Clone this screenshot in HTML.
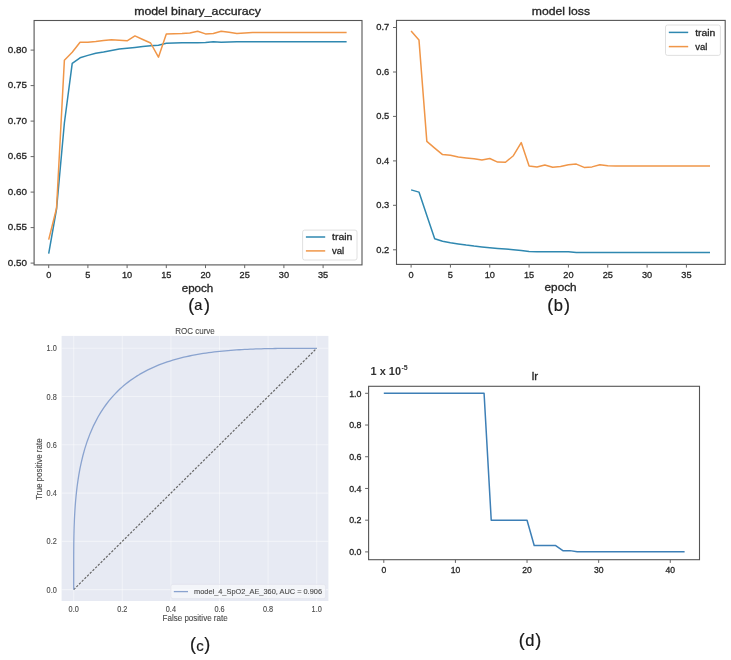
<!DOCTYPE html>
<html><head><meta charset="utf-8"><style>
html,body{margin:0;padding:0;background:#fff;}
svg{display:block;filter:blur(0.45px);}
text{font-family:"Liberation Sans",sans-serif;}
</style></head><body>
<svg width="731" height="660" viewBox="0 0 731 660">
<rect width="731" height="660" fill="#fff"/>
<rect x="34.1" y="20.5" width="327.90" height="244.40" fill="none" stroke="#555" stroke-width="1.1"/>
<line x1="30.6" y1="263.1" x2="34.1" y2="263.1" stroke="#666" stroke-width="1"/>
<text x="27.00" y="265.80" font-size="9.8" text-anchor="end" fill="#262626" stroke="#262626" stroke-width="0.3" textLength="19.2" lengthAdjust="spacingAndGlyphs" >0.50</text>
<line x1="30.6" y1="227.6" x2="34.1" y2="227.6" stroke="#666" stroke-width="1"/>
<text x="27.00" y="230.30" font-size="9.8" text-anchor="end" fill="#262626" stroke="#262626" stroke-width="0.3" textLength="19.2" lengthAdjust="spacingAndGlyphs" >0.55</text>
<line x1="30.6" y1="192.1" x2="34.1" y2="192.1" stroke="#666" stroke-width="1"/>
<text x="27.00" y="194.80" font-size="9.8" text-anchor="end" fill="#262626" stroke="#262626" stroke-width="0.3" textLength="19.2" lengthAdjust="spacingAndGlyphs" >0.60</text>
<line x1="30.6" y1="156.6" x2="34.1" y2="156.6" stroke="#666" stroke-width="1"/>
<text x="27.00" y="159.30" font-size="9.8" text-anchor="end" fill="#262626" stroke="#262626" stroke-width="0.3" textLength="19.2" lengthAdjust="spacingAndGlyphs" >0.65</text>
<line x1="30.6" y1="121.1" x2="34.1" y2="121.1" stroke="#666" stroke-width="1"/>
<text x="27.00" y="123.80" font-size="9.8" text-anchor="end" fill="#262626" stroke="#262626" stroke-width="0.3" textLength="19.2" lengthAdjust="spacingAndGlyphs" >0.70</text>
<line x1="30.6" y1="85.6" x2="34.1" y2="85.6" stroke="#666" stroke-width="1"/>
<text x="27.00" y="88.30" font-size="9.8" text-anchor="end" fill="#262626" stroke="#262626" stroke-width="0.3" textLength="19.2" lengthAdjust="spacingAndGlyphs" >0.75</text>
<line x1="30.6" y1="50.1" x2="34.1" y2="50.1" stroke="#666" stroke-width="1"/>
<text x="27.00" y="52.80" font-size="9.8" text-anchor="end" fill="#262626" stroke="#262626" stroke-width="0.3" textLength="19.2" lengthAdjust="spacingAndGlyphs" >0.80</text>
<line x1="48.70" y1="264.9" x2="48.70" y2="268.10" stroke="#666" stroke-width="1"/>
<text x="48.70" y="278.40" font-size="9.2" text-anchor="middle" fill="#262626" stroke="#262626" stroke-width="0.3" >0</text>
<line x1="87.90" y1="264.9" x2="87.90" y2="268.10" stroke="#666" stroke-width="1"/>
<text x="87.90" y="278.40" font-size="9.2" text-anchor="middle" fill="#262626" stroke="#262626" stroke-width="0.3" >5</text>
<line x1="127.10" y1="264.9" x2="127.10" y2="268.10" stroke="#666" stroke-width="1"/>
<text x="127.10" y="278.40" font-size="9.2" text-anchor="middle" fill="#262626" stroke="#262626" stroke-width="0.3" >10</text>
<line x1="166.30" y1="264.9" x2="166.30" y2="268.10" stroke="#666" stroke-width="1"/>
<text x="166.30" y="278.40" font-size="9.2" text-anchor="middle" fill="#262626" stroke="#262626" stroke-width="0.3" >15</text>
<line x1="205.50" y1="264.9" x2="205.50" y2="268.10" stroke="#666" stroke-width="1"/>
<text x="205.50" y="278.40" font-size="9.2" text-anchor="middle" fill="#262626" stroke="#262626" stroke-width="0.3" >20</text>
<line x1="244.70" y1="264.9" x2="244.70" y2="268.10" stroke="#666" stroke-width="1"/>
<text x="244.70" y="278.40" font-size="9.2" text-anchor="middle" fill="#262626" stroke="#262626" stroke-width="0.3" >25</text>
<line x1="283.90" y1="264.9" x2="283.90" y2="268.10" stroke="#666" stroke-width="1"/>
<text x="283.90" y="278.40" font-size="9.2" text-anchor="middle" fill="#262626" stroke="#262626" stroke-width="0.3" >30</text>
<line x1="323.10" y1="264.9" x2="323.10" y2="268.10" stroke="#666" stroke-width="1"/>
<text x="323.10" y="278.40" font-size="9.2" text-anchor="middle" fill="#262626" stroke="#262626" stroke-width="0.3" >35</text>
<text x="197.50" y="14.80" font-size="10.3" text-anchor="middle" fill="#262626" stroke="#262626" stroke-width="0.3" textLength="126.7" lengthAdjust="spacingAndGlyphs" >model binary_accuracy</text>
<text x="197.50" y="291.80" font-size="10.3" text-anchor="middle" fill="#262626" stroke="#262626" stroke-width="0.3" textLength="31.6" lengthAdjust="spacingAndGlyphs" >epoch</text>
<polyline points="48.70,253.60 56.54,209.00 64.38,123.00 72.22,63.30 80.06,57.80 87.90,55.40 95.74,53.30 103.58,52.00 111.42,50.40 119.26,49.00 127.10,48.20 134.94,47.40 142.78,46.50 150.62,45.80 158.46,45.20 166.30,43.30 174.14,43.10 181.98,42.80 189.82,42.70 197.66,42.70 205.50,42.40 213.34,41.70 221.18,42.30 229.02,41.90 236.86,41.80 244.70,41.80 252.54,41.80 260.38,41.80 268.22,41.80 276.06,41.80 283.90,41.80 291.74,41.80 299.58,41.80 307.42,41.80 315.26,41.80 323.10,41.80 330.94,41.80 338.78,41.80 346.62,41.80" fill="none" stroke="#2f88b0" stroke-width="1.5" stroke-linejoin="round"/>
<polyline points="48.70,239.60 56.54,208.20 64.38,60.30 72.22,52.30 80.06,42.20 87.90,42.20 95.74,41.50 103.58,40.60 111.42,39.70 119.26,40.20 127.10,40.80 134.94,35.90 142.78,39.50 150.62,43.00 158.46,57.20 166.30,34.00 174.14,33.80 181.98,33.50 189.82,32.90 197.66,31.30 205.50,33.90 213.34,33.50 221.18,31.20 229.02,32.30 236.86,33.60 244.70,32.90 252.54,32.60 260.38,32.60 268.22,32.60 276.06,32.60 283.90,32.60 291.74,32.60 299.58,32.60 307.42,32.60 315.26,32.60 323.10,32.60 330.94,32.60 338.78,32.60 346.62,32.60" fill="none" stroke="#f09648" stroke-width="1.5" stroke-linejoin="round"/>
<rect x="302.6" y="230.1" width="54.4" height="29.9" rx="2" fill="#fff" fill-opacity="0.8" stroke="#d8d8d8" stroke-width="0.8"/>
<line x1="305.9" y1="237" x2="325.2" y2="237" stroke="#2f88b0" stroke-width="1.5"/>
<line x1="305.9" y1="250.9" x2="325.2" y2="250.9" stroke="#f09648" stroke-width="1.5"/>
<text x="332.10" y="240.40" font-size="9.2" text-anchor="start" fill="#262626" stroke="#262626" stroke-width="0.3" textLength="20.3" lengthAdjust="spacingAndGlyphs" >train</text>
<text x="332.10" y="254.00" font-size="9.2" text-anchor="start" fill="#262626" stroke="#262626" stroke-width="0.3" textLength="12.1" lengthAdjust="spacingAndGlyphs" >val</text>
<rect x="396.5" y="20.4" width="328.70" height="244.00" fill="none" stroke="#555" stroke-width="1.1"/>
<line x1="393.0" y1="27.5" x2="396.5" y2="27.5" stroke="#666" stroke-width="1"/>
<text x="389.20" y="30.20" font-size="9.8" text-anchor="end" fill="#262626" stroke="#262626" stroke-width="0.3" textLength="13.0" lengthAdjust="spacingAndGlyphs" >0.7</text>
<line x1="393.0" y1="72.0" x2="396.5" y2="72.0" stroke="#666" stroke-width="1"/>
<text x="389.20" y="74.70" font-size="9.8" text-anchor="end" fill="#262626" stroke="#262626" stroke-width="0.3" textLength="13.0" lengthAdjust="spacingAndGlyphs" >0.6</text>
<line x1="393.0" y1="116.4" x2="396.5" y2="116.4" stroke="#666" stroke-width="1"/>
<text x="389.20" y="119.10" font-size="9.8" text-anchor="end" fill="#262626" stroke="#262626" stroke-width="0.3" textLength="13.0" lengthAdjust="spacingAndGlyphs" >0.5</text>
<line x1="393.0" y1="160.9" x2="396.5" y2="160.9" stroke="#666" stroke-width="1"/>
<text x="389.20" y="163.60" font-size="9.8" text-anchor="end" fill="#262626" stroke="#262626" stroke-width="0.3" textLength="13.0" lengthAdjust="spacingAndGlyphs" >0.4</text>
<line x1="393.0" y1="205.3" x2="396.5" y2="205.3" stroke="#666" stroke-width="1"/>
<text x="389.20" y="208.00" font-size="9.8" text-anchor="end" fill="#262626" stroke="#262626" stroke-width="0.3" textLength="13.0" lengthAdjust="spacingAndGlyphs" >0.3</text>
<line x1="393.0" y1="249.8" x2="396.5" y2="249.8" stroke="#666" stroke-width="1"/>
<text x="389.20" y="252.50" font-size="9.8" text-anchor="end" fill="#262626" stroke="#262626" stroke-width="0.3" textLength="13.0" lengthAdjust="spacingAndGlyphs" >0.2</text>
<line x1="411.10" y1="264.4" x2="411.10" y2="267.60" stroke="#666" stroke-width="1"/>
<text x="411.10" y="278.00" font-size="9.2" text-anchor="middle" fill="#262626" stroke="#262626" stroke-width="0.3" >0</text>
<line x1="450.43" y1="264.4" x2="450.43" y2="267.60" stroke="#666" stroke-width="1"/>
<text x="450.43" y="278.00" font-size="9.2" text-anchor="middle" fill="#262626" stroke="#262626" stroke-width="0.3" >5</text>
<line x1="489.76" y1="264.4" x2="489.76" y2="267.60" stroke="#666" stroke-width="1"/>
<text x="489.76" y="278.00" font-size="9.2" text-anchor="middle" fill="#262626" stroke="#262626" stroke-width="0.3" >10</text>
<line x1="529.09" y1="264.4" x2="529.09" y2="267.60" stroke="#666" stroke-width="1"/>
<text x="529.09" y="278.00" font-size="9.2" text-anchor="middle" fill="#262626" stroke="#262626" stroke-width="0.3" >15</text>
<line x1="568.42" y1="264.4" x2="568.42" y2="267.60" stroke="#666" stroke-width="1"/>
<text x="568.42" y="278.00" font-size="9.2" text-anchor="middle" fill="#262626" stroke="#262626" stroke-width="0.3" >20</text>
<line x1="607.75" y1="264.4" x2="607.75" y2="267.60" stroke="#666" stroke-width="1"/>
<text x="607.75" y="278.00" font-size="9.2" text-anchor="middle" fill="#262626" stroke="#262626" stroke-width="0.3" >25</text>
<line x1="647.08" y1="264.4" x2="647.08" y2="267.60" stroke="#666" stroke-width="1"/>
<text x="647.08" y="278.00" font-size="9.2" text-anchor="middle" fill="#262626" stroke="#262626" stroke-width="0.3" >30</text>
<line x1="686.41" y1="264.4" x2="686.41" y2="267.60" stroke="#666" stroke-width="1"/>
<text x="686.41" y="278.00" font-size="9.2" text-anchor="middle" fill="#262626" stroke="#262626" stroke-width="0.3" >35</text>
<text x="560.90" y="14.80" font-size="10.3" text-anchor="middle" fill="#262626" stroke="#262626" stroke-width="0.3" textLength="58.2" lengthAdjust="spacingAndGlyphs" >model loss</text>
<text x="560.60" y="290.70" font-size="10.3" text-anchor="middle" fill="#262626" stroke="#262626" stroke-width="0.3" textLength="32.1" lengthAdjust="spacingAndGlyphs" >epoch</text>
<polyline points="411.10,189.90 418.97,192.10 426.83,215.40 434.70,238.80 442.56,241.20 450.43,242.70 458.30,243.90 466.16,245.10 474.03,246.10 481.89,246.90 489.76,247.70 497.63,248.40 505.49,249.00 513.36,249.70 521.22,250.40 529.09,251.60 536.96,251.70 544.82,251.70 552.69,251.70 560.55,251.80 568.42,251.80 576.29,252.40 584.15,252.60 592.02,252.60 599.88,252.60 607.75,252.60 615.62,252.60 623.48,252.60 631.35,252.60 639.21,252.60 647.08,252.60 654.95,252.60 662.81,252.60 670.68,252.60 678.54,252.60 686.41,252.60 694.28,252.60 702.14,252.60 710.01,252.60" fill="none" stroke="#2f88b0" stroke-width="1.5" stroke-linejoin="round"/>
<polyline points="411.10,30.90 418.97,39.90 426.83,141.40 434.70,148.10 442.56,154.60 450.43,155.20 458.30,157.00 466.16,157.90 474.03,158.80 481.89,160.10 489.76,158.50 497.63,162.10 505.49,162.30 513.36,155.70 521.22,142.60 529.09,165.90 536.96,167.00 544.82,165.00 552.69,167.20 560.55,166.60 568.42,164.80 576.29,164.10 584.15,167.40 592.02,166.90 599.88,164.70 607.75,165.80 615.62,166.00 623.48,166.00 631.35,166.00 639.21,166.00 647.08,166.00 654.95,166.00 662.81,166.00 670.68,166.00 678.54,166.00 686.41,166.00 694.28,166.00 702.14,166.00 710.01,166.00" fill="none" stroke="#f09648" stroke-width="1.5" stroke-linejoin="round"/>
<rect x="665.5" y="25" width="54.9" height="30.4" rx="2" fill="#fff" fill-opacity="0.8" stroke="#d8d8d8" stroke-width="0.8"/>
<line x1="668.8" y1="32.4" x2="688.2" y2="32.4" stroke="#2f88b0" stroke-width="1.5"/>
<line x1="668.8" y1="46.6" x2="688.2" y2="46.6" stroke="#f09648" stroke-width="1.5"/>
<text x="695.20" y="35.80" font-size="9.2" text-anchor="start" fill="#262626" stroke="#262626" stroke-width="0.3" textLength="20.2" lengthAdjust="spacingAndGlyphs" >train</text>
<text x="695.20" y="49.60" font-size="9.2" text-anchor="start" fill="#262626" stroke="#262626" stroke-width="0.3" textLength="12.1" lengthAdjust="spacingAndGlyphs" >val</text>
<rect x="61.6" y="335.9" width="266.80" height="265.10" fill="#e7eaf3"/>
<line x1="73.70" y1="335.9" x2="73.70" y2="601.0" stroke="#fff" stroke-opacity="0.42" stroke-width="1.1"/>
<line x1="122.30" y1="335.9" x2="122.30" y2="601.0" stroke="#fff" stroke-opacity="0.42" stroke-width="1.1"/>
<line x1="170.90" y1="335.9" x2="170.90" y2="601.0" stroke="#fff" stroke-opacity="0.42" stroke-width="1.1"/>
<line x1="219.50" y1="335.9" x2="219.50" y2="601.0" stroke="#fff" stroke-opacity="0.42" stroke-width="1.1"/>
<line x1="268.10" y1="335.9" x2="268.10" y2="601.0" stroke="#fff" stroke-opacity="0.42" stroke-width="1.1"/>
<line x1="316.70" y1="335.9" x2="316.70" y2="601.0" stroke="#fff" stroke-opacity="0.42" stroke-width="1.1"/>
<line x1="61.6" y1="589.60" x2="328.4" y2="589.60" stroke="#fff" stroke-opacity="0.42" stroke-width="1.1"/>
<line x1="61.6" y1="541.34" x2="328.4" y2="541.34" stroke="#fff" stroke-opacity="0.42" stroke-width="1.1"/>
<line x1="61.6" y1="493.08" x2="328.4" y2="493.08" stroke="#fff" stroke-opacity="0.42" stroke-width="1.1"/>
<line x1="61.6" y1="444.82" x2="328.4" y2="444.82" stroke="#fff" stroke-opacity="0.42" stroke-width="1.1"/>
<line x1="61.6" y1="396.56" x2="328.4" y2="396.56" stroke="#fff" stroke-opacity="0.42" stroke-width="1.1"/>
<line x1="61.6" y1="348.30" x2="328.4" y2="348.30" stroke="#fff" stroke-opacity="0.42" stroke-width="1.1"/>
<text x="56.80" y="592.60" font-size="8.2" text-anchor="end" fill="#4a4a4a" stroke="#4a4a4a" stroke-width="0.12" textLength="10.2" lengthAdjust="spacingAndGlyphs" >0.0</text>
<text x="56.80" y="544.34" font-size="8.2" text-anchor="end" fill="#4a4a4a" stroke="#4a4a4a" stroke-width="0.12" textLength="10.2" lengthAdjust="spacingAndGlyphs" >0.2</text>
<text x="56.80" y="496.08" font-size="8.2" text-anchor="end" fill="#4a4a4a" stroke="#4a4a4a" stroke-width="0.12" textLength="10.2" lengthAdjust="spacingAndGlyphs" >0.4</text>
<text x="56.80" y="447.82" font-size="8.2" text-anchor="end" fill="#4a4a4a" stroke="#4a4a4a" stroke-width="0.12" textLength="10.2" lengthAdjust="spacingAndGlyphs" >0.6</text>
<text x="56.80" y="399.56" font-size="8.2" text-anchor="end" fill="#4a4a4a" stroke="#4a4a4a" stroke-width="0.12" textLength="10.2" lengthAdjust="spacingAndGlyphs" >0.8</text>
<text x="56.80" y="351.30" font-size="8.2" text-anchor="end" fill="#4a4a4a" stroke="#4a4a4a" stroke-width="0.12" textLength="10.2" lengthAdjust="spacingAndGlyphs" >1.0</text>
<text x="73.70" y="611.90" font-size="8.2" text-anchor="middle" fill="#4a4a4a" stroke="#4a4a4a" stroke-width="0.12" textLength="10.2" lengthAdjust="spacingAndGlyphs" >0.0</text>
<text x="122.30" y="611.90" font-size="8.2" text-anchor="middle" fill="#4a4a4a" stroke="#4a4a4a" stroke-width="0.12" textLength="10.2" lengthAdjust="spacingAndGlyphs" >0.2</text>
<text x="170.90" y="611.90" font-size="8.2" text-anchor="middle" fill="#4a4a4a" stroke="#4a4a4a" stroke-width="0.12" textLength="10.2" lengthAdjust="spacingAndGlyphs" >0.4</text>
<text x="219.50" y="611.90" font-size="8.2" text-anchor="middle" fill="#4a4a4a" stroke="#4a4a4a" stroke-width="0.12" textLength="10.2" lengthAdjust="spacingAndGlyphs" >0.6</text>
<text x="268.10" y="611.90" font-size="8.2" text-anchor="middle" fill="#4a4a4a" stroke="#4a4a4a" stroke-width="0.12" textLength="10.2" lengthAdjust="spacingAndGlyphs" >0.8</text>
<text x="316.70" y="611.90" font-size="8.2" text-anchor="middle" fill="#4a4a4a" stroke="#4a4a4a" stroke-width="0.12" textLength="10.2" lengthAdjust="spacingAndGlyphs" >1.0</text>
<text x="195.00" y="333.60" font-size="9.2" text-anchor="middle" fill="#4a4a4a" stroke="#4a4a4a" stroke-width="0.12" textLength="39.6" lengthAdjust="spacingAndGlyphs" >ROC curve</text>
<text x="195.10" y="620.80" font-size="8.8" text-anchor="middle" fill="#4a4a4a" stroke="#4a4a4a" stroke-width="0.12" textLength="65.2" lengthAdjust="spacingAndGlyphs" >False positive rate</text>
<text transform="translate(42.4,469.1) rotate(-90)" x="0" y="0" font-size="8.8" text-anchor="middle" fill="#4a4a4a" stroke="#4a4a4a" stroke-width="0.12" textLength="61.4" lengthAdjust="spacingAndGlyphs">True positive rate</text>
<line x1="73.7" y1="589.6" x2="316.7" y2="348.3" stroke="#666" stroke-width="1.2" stroke-dasharray="2.3,1.5"/>
<polyline points="73.70,589.60 73.70,567.61 73.70,567.33 73.70,567.03 73.70,566.71 73.70,566.37 73.70,566.01 73.70,565.63 73.70,565.22 73.70,564.79 73.70,564.33 73.70,563.84 73.70,563.33 73.70,562.78 73.70,562.21 73.70,561.59 73.70,560.95 73.71,560.26 73.71,559.53 73.71,558.76 73.71,557.94 73.71,557.08 73.71,556.16 73.72,555.19 73.72,554.16 73.73,553.07 73.73,551.91 73.74,550.68 73.75,549.37 73.76,547.99 73.77,546.52 73.78,544.95 73.80,543.29 73.83,541.53 73.85,539.65 73.88,537.65 73.92,535.53 73.97,533.26 74.03,530.86 74.10,528.29 74.19,525.56 74.30,522.65 74.42,519.55 74.58,516.24 74.77,512.72 75.00,508.97 75.28,504.98 75.62,500.73 76.04,496.20 76.54,491.39 77.15,486.27 77.90,480.84 78.80,475.08 79.90,468.99 81.24,462.55 82.86,455.76 84.83,448.63 87.23,441.17 90.15,433.39 93.69,425.33 98.00,417.04 100.77,412.38 103.54,408.13 106.31,404.25 109.07,400.68 111.84,397.38 114.61,394.33 117.38,391.48 120.15,388.84 122.92,386.36 125.68,384.05 128.45,381.88 131.22,379.84 133.99,377.93 136.76,376.13 139.53,374.43 142.29,372.84 145.06,371.33 147.83,369.91 150.60,368.57 153.37,367.30 156.14,366.10 158.90,364.97 161.67,363.90 164.44,362.89 167.21,361.94 169.98,361.04 172.75,360.19 175.51,359.38 178.28,358.62 181.05,357.91 183.82,357.23 186.59,356.59 189.36,355.99 192.12,355.42 194.89,354.89 197.66,354.38 200.43,353.91 203.20,353.46 205.97,353.05 208.73,352.66 211.50,352.29 214.27,351.95 217.04,351.62 219.81,351.32 222.58,351.05 225.34,350.79 228.11,350.54 230.88,350.32 233.65,350.11 236.42,349.92 239.19,349.74 241.95,349.58 244.72,349.43 247.49,349.30 250.26,349.17 253.03,349.06 255.80,348.96 258.56,348.86 261.33,348.78 264.10,348.71 266.87,348.64 269.64,348.58 272.41,348.53 275.17,348.49 277.94,348.45 280.71,348.42 283.48,348.39 286.25,348.37 289.02,348.35 291.78,348.34 294.55,348.32 297.32,348.32 300.09,348.31 302.86,348.31 305.63,348.30 308.39,348.30 311.16,348.30 313.93,348.30 316.70,348.30" fill="none" stroke="#8aa3cf" stroke-width="1.3" stroke-linejoin="round"/>
<rect x="170.9" y="584.4" width="154.7" height="14.2" rx="2" fill="#fff" fill-opacity="0.5" stroke="#e2e3ec" stroke-width="0.8"/>
<line x1="173.8" y1="591.6" x2="188" y2="591.6" stroke="#8aa3cf" stroke-width="1.3"/>
<text x="194.00" y="594.20" font-size="8" text-anchor="start" fill="#4a4a4a" stroke="#4a4a4a" stroke-width="0.12" textLength="128.0" lengthAdjust="spacingAndGlyphs" >model_4_SpO2_AE_360, AUC = 0.906</text>
<rect x="368.6" y="386.3" width="330.90" height="173.40" fill="none" stroke="#555" stroke-width="1.1"/>
<line x1="365.1" y1="551.90" x2="368.6" y2="551.90" stroke="#666" stroke-width="1"/>
<text x="361.50" y="555.10" font-size="8.6" text-anchor="end" fill="#262626" stroke="#262626" stroke-width="0.3" textLength="12.3" lengthAdjust="spacingAndGlyphs" >0.0</text>
<line x1="365.1" y1="520.18" x2="368.6" y2="520.18" stroke="#666" stroke-width="1"/>
<text x="361.50" y="523.38" font-size="8.6" text-anchor="end" fill="#262626" stroke="#262626" stroke-width="0.3" textLength="12.3" lengthAdjust="spacingAndGlyphs" >0.2</text>
<line x1="365.1" y1="488.46" x2="368.6" y2="488.46" stroke="#666" stroke-width="1"/>
<text x="361.50" y="491.66" font-size="8.6" text-anchor="end" fill="#262626" stroke="#262626" stroke-width="0.3" textLength="12.3" lengthAdjust="spacingAndGlyphs" >0.4</text>
<line x1="365.1" y1="456.74" x2="368.6" y2="456.74" stroke="#666" stroke-width="1"/>
<text x="361.50" y="459.94" font-size="8.6" text-anchor="end" fill="#262626" stroke="#262626" stroke-width="0.3" textLength="12.3" lengthAdjust="spacingAndGlyphs" >0.6</text>
<line x1="365.1" y1="425.02" x2="368.6" y2="425.02" stroke="#666" stroke-width="1"/>
<text x="361.50" y="428.22" font-size="8.6" text-anchor="end" fill="#262626" stroke="#262626" stroke-width="0.3" textLength="12.3" lengthAdjust="spacingAndGlyphs" >0.8</text>
<line x1="365.1" y1="393.30" x2="368.6" y2="393.30" stroke="#666" stroke-width="1"/>
<text x="361.50" y="396.50" font-size="8.6" text-anchor="end" fill="#262626" stroke="#262626" stroke-width="0.3" textLength="12.3" lengthAdjust="spacingAndGlyphs" >1.0</text>
<line x1="383.80" y1="559.7" x2="383.80" y2="562.90" stroke="#666" stroke-width="1"/>
<text x="383.80" y="573.30" font-size="8.6" text-anchor="middle" fill="#262626" stroke="#262626" stroke-width="0.3" >0</text>
<line x1="455.42" y1="559.7" x2="455.42" y2="562.90" stroke="#666" stroke-width="1"/>
<text x="455.42" y="573.30" font-size="8.6" text-anchor="middle" fill="#262626" stroke="#262626" stroke-width="0.3" >10</text>
<line x1="527.04" y1="559.7" x2="527.04" y2="562.90" stroke="#666" stroke-width="1"/>
<text x="527.04" y="573.30" font-size="8.6" text-anchor="middle" fill="#262626" stroke="#262626" stroke-width="0.3" >20</text>
<line x1="598.66" y1="559.7" x2="598.66" y2="562.90" stroke="#666" stroke-width="1"/>
<text x="598.66" y="573.30" font-size="8.6" text-anchor="middle" fill="#262626" stroke="#262626" stroke-width="0.3" >30</text>
<line x1="670.28" y1="559.7" x2="670.28" y2="562.90" stroke="#666" stroke-width="1"/>
<text x="670.28" y="573.30" font-size="8.6" text-anchor="middle" fill="#262626" stroke="#262626" stroke-width="0.3" >40</text>
<text x="534.90" y="379.60" font-size="10.3" text-anchor="middle" fill="#262626" stroke="#262626" stroke-width="0.3" textLength="6.4" lengthAdjust="spacingAndGlyphs" >lr</text>
<text x="370.5" y="374.7" font-size="11.5" font-weight="bold" fill="#333" textLength="30.5" lengthAdjust="spacingAndGlyphs">1 x 10</text>
<text x="401.5" y="369.8" font-size="7" font-weight="bold" fill="#333">-5</text>
<polyline points="383.80,393.30 390.96,393.30 398.12,393.30 405.29,393.30 412.45,393.30 419.61,393.30 426.77,393.30 433.93,393.30 441.10,393.30 448.26,393.30 455.42,393.30 462.58,393.30 469.74,393.30 476.91,393.30 484.07,393.30 491.23,520.18 498.39,520.18 505.55,520.18 512.72,520.18 519.88,520.18 527.04,520.18 534.20,545.56 541.36,545.56 548.53,545.56 555.69,545.56 562.85,550.63 570.01,550.63 577.17,551.65 584.34,551.65 591.50,551.65 598.66,551.65 605.82,551.65 612.98,551.65 620.15,551.65 627.31,551.65 634.47,551.65 641.63,551.65 648.79,551.65 655.96,551.65 663.12,551.65 670.28,551.65 677.44,551.65 684.60,551.65" fill="none" stroke="#3d7fb6" stroke-width="1.5" stroke-linejoin="round"/>
<text x="191.15" y="310.50" font-size="18" text-anchor="middle" fill="#1a1a1a" stroke="#1a1a1a" stroke-width="0.2" >(</text>
<text x="206.95" y="310.50" font-size="18" text-anchor="middle" fill="#1a1a1a" stroke="#1a1a1a" stroke-width="0.2" >)</text>
<text x="198.30" y="310.30" font-size="14.5" text-anchor="middle" fill="#1a1a1a" stroke="#1a1a1a" stroke-width="0.2" >a</text>
<text x="550.15" y="311.00" font-size="18" text-anchor="middle" fill="#1a1a1a" stroke="#1a1a1a" stroke-width="0.2" >(</text>
<text x="567.10" y="311.00" font-size="18" text-anchor="middle" fill="#1a1a1a" stroke="#1a1a1a" stroke-width="0.2" >)</text>
<text x="558.25" y="310.60" font-size="16.5" text-anchor="middle" fill="#1a1a1a" stroke="#1a1a1a" stroke-width="0.2" >b</text>
<text x="193.05" y="650.20" font-size="18" text-anchor="middle" fill="#1a1a1a" stroke="#1a1a1a" stroke-width="0.2" >(</text>
<text x="207.35" y="650.20" font-size="18" text-anchor="middle" fill="#1a1a1a" stroke="#1a1a1a" stroke-width="0.2" >)</text>
<text x="200.00" y="650.80" font-size="15" text-anchor="middle" fill="#1a1a1a" stroke="#1a1a1a" stroke-width="0.2" >c</text>
<text x="521.75" y="646.30" font-size="18" text-anchor="middle" fill="#1a1a1a" stroke="#1a1a1a" stroke-width="0.2" >(</text>
<text x="538.35" y="646.30" font-size="18" text-anchor="middle" fill="#1a1a1a" stroke="#1a1a1a" stroke-width="0.2" >)</text>
<text x="529.80" y="645.70" font-size="16.5" text-anchor="middle" fill="#1a1a1a" stroke="#1a1a1a" stroke-width="0.2" >d</text>
</svg>
</body></html>
